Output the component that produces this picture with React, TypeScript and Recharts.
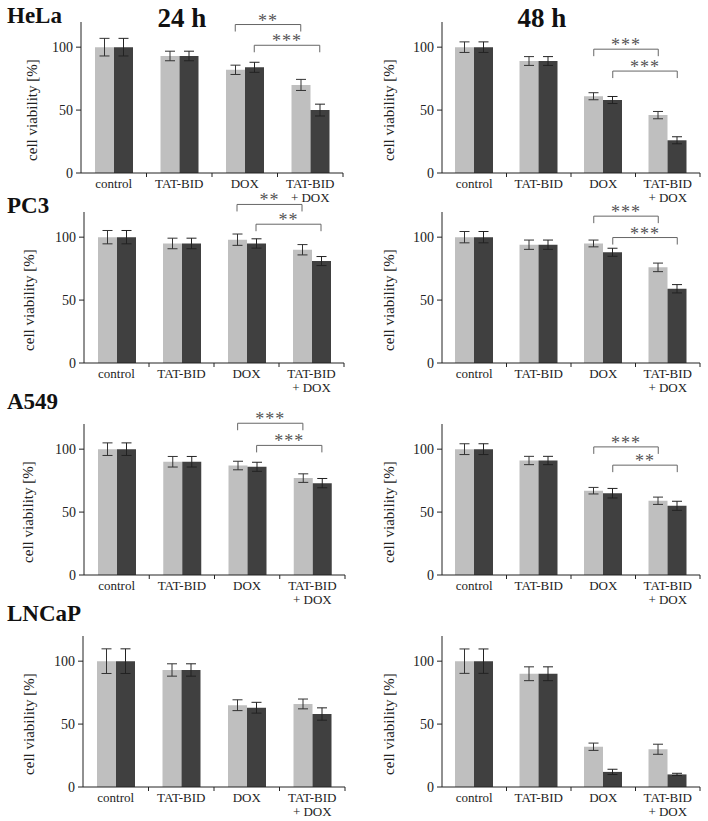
import { BarChart, Bar, XAxis, YAxis, ErrorBar, ReferenceLine } from 'recharts';

const FONT = "'Liberation Serif', 'Times New Roman', Times, serif";
const LIGHT = '#bfbfbf';
const DARK = '#404040';
const INK = '#222';

const CATEGORIES = ['control', 'TAT-BID', 'DOX', 'TAT-BID + DOX'];
const Y_TICKS = [0, 50, 100];
const Y_MAX = 120;

// HeLa
const HELA_24_LIGHT = [100, 93, 82, 70];
const HELA_24_LIGHT_SD = [7, 3.8, 3.7, 4.4];
const HELA_24_DARK = [100, 93, 84, 50];
const HELA_24_DARK_SD = [7, 3.8, 4, 4.7];
const HELA_48_LIGHT = [100, 89, 61, 46];
const HELA_48_LIGHT_SD = [4.2, 3.5, 2.8, 2.9];
const HELA_48_DARK = [100, 89, 58, 26];
const HELA_48_DARK_SD = [4.2, 3.5, 2.8, 2.8];

// PC3
const PC3_24_LIGHT = [100, 95, 98, 90];
const PC3_24_LIGHT_SD = [5.3, 4.2, 4.5, 4.1];
const PC3_24_DARK = [100, 95, 95, 81];
const PC3_24_DARK_SD = [5.3, 4.2, 3.7, 3.6];
const PC3_48_LIGHT = [100, 94, 95, 76];
const PC3_48_LIGHT_SD = [4.5, 3.7, 2.7, 3.4];
const PC3_48_DARK = [100, 94, 88, 59];
const PC3_48_DARK_SD = [4.5, 3.7, 3.2, 3.3];

// A549
const A549_24_LIGHT = [100, 90, 87, 77];
const A549_24_LIGHT_SD = [5, 4.2, 3.4, 3.4];
const A549_24_DARK = [100, 90, 86, 73];
const A549_24_DARK_SD = [5, 4.2, 3.6, 3.7];
const A549_48_LIGHT = [100, 91, 67, 59];
const A549_48_LIGHT_SD = [4.3, 3.3, 2.6, 2.9];
const A549_48_DARK = [100, 91, 65, 55];
const A549_48_DARK_SD = [4.3, 3.3, 3.8, 3.6];

// LNCaP
const LNCAP_24_LIGHT = [100, 93, 65, 66];
const LNCAP_24_LIGHT_SD = [9.8, 4.9, 4.3, 3.9];
const LNCAP_24_DARK = [100, 93, 63, 58];
const LNCAP_24_DARK_SD = [9.8, 4.9, 4.3, 4.9];
const LNCAP_48_LIGHT = [100, 90, 32, 30];
const LNCAP_48_LIGHT_SD = [9.7, 5.5, 2.9, 4];
const LNCAP_48_DARK = [100, 90, 12, 10];
const LNCAP_48_DARK_SD = [9.7, 5.5, 2.1, 0.9];

type Sig = { series: 'light' | 'dark'; from: string; to: string; y: number; stars: string };

const HELA_24_SIG: Sig[] = [
  { series: 'light', from: 'DOX', to: 'TAT-BID + DOX', y: 118, stars: '**' },
  { series: 'dark', from: 'DOX', to: 'TAT-BID + DOX', y: 101.5, stars: '***' },
];
const HELA_48_SIG: Sig[] = [
  { series: 'light', from: 'DOX', to: 'TAT-BID + DOX', y: 98.4, stars: '***' },
  { series: 'dark', from: 'DOX', to: 'TAT-BID + DOX', y: 81, stars: '***' },
];
const PC3_24_SIG: Sig[] = [
  { series: 'light', from: 'DOX', to: 'TAT-BID + DOX', y: 126, stars: '**' },
  { series: 'dark', from: 'DOX', to: 'TAT-BID + DOX', y: 110.3, stars: '**' },
];
const PC3_48_SIG: Sig[] = [
  { series: 'light', from: 'DOX', to: 'TAT-BID + DOX', y: 116.7, stars: '***' },
  { series: 'dark', from: 'DOX', to: 'TAT-BID + DOX', y: 99.7, stars: '***' },
];
const A549_24_SIG: Sig[] = [
  { series: 'light', from: 'DOX', to: 'TAT-BID + DOX', y: 120.6, stars: '***' },
  { series: 'dark', from: 'DOX', to: 'TAT-BID + DOX', y: 103, stars: '***' },
];
const A549_48_SIG: Sig[] = [
  { series: 'light', from: 'DOX', to: 'TAT-BID + DOX', y: 101.8, stars: '***' },
  { series: 'dark', from: 'DOX', to: 'TAT-BID + DOX', y: 87.3, stars: '**' },
];

// layout
const COL_W = 354;
const PLOT_H = 151;
const M_TOP = 30;
const X_H = 36;
const Y_W = 50;
const BAR = 19;
const BRACKET_DROP = 7;

function CatTick({ x, y, payload, fallback }: any) {
  const off = payload?.offset ?? fallback;
  const parts = String(payload.value).split(' + ');
  const idx = payload.index ?? CATEGORIES.indexOf(payload.value);
  return (
    <g>
      {idx > 0 && <line x1={x - off} x2={x - off} y1={y} y2={y + 4} stroke={INK} />}
      {idx === CATEGORIES.length - 1 && <line x1={x + off} x2={x + off} y1={y} y2={y + 4} stroke={INK} />}
      <text x={x} y={y + 15} textAnchor="middle" fontFamily={FONT} fontSize={13} fill={INK}>
        {parts.map((p, i) => (
          <tspan key={i} x={x} dy={i === 0 ? 0 : 13.5}>
            {i === 0 ? p : '+ ' + p}
          </tspan>
        ))}
      </text>
    </g>
  );
}

// bracket drawn between the centres of the two compared bars
function Bracket({ x1, y1, x2, series, stars }: any) {
  const shift = series === 'light' ? -BAR / 2 : BAR / 2;
  const a = x1 + shift;
  const b = x2 + shift;
  return (
    <g>
      <path
        d={`M${a},${y1 + BRACKET_DROP}V${y1}H${b}V${y1 + BRACKET_DROP}`}
        fill="none"
        stroke="#666"
        strokeWidth={1}
      />
      <text
        x={(a + b) / 2}
        y={y1 + 2}
        textAnchor="middle"
        fontFamily={FONT}
        fontSize={18}
        letterSpacing={1}
        fill="#555"
      >
        {stars}
      </text>
    </g>
  );
}

interface PanelProps {
  colLeft: number;
  plotLeft: number;
  plotRight: number;
  zeroY: number;
  light: number[];
  lightSd: number[];
  dark: number[];
  darkSd: number[];
  sig?: Sig[];
}

function Panel({ colLeft, plotLeft, plotRight, zeroY, light, lightSd, dark, darkSd, sig = [] }: PanelProps) {
  const data = CATEGORIES.map((name, i) => ({
    name,
    light: light[i],
    lightSd: lightSd[i],
    dark: dark[i],
    darkSd: darkSd[i],
  }));
  const band = (plotRight - plotLeft) / CATEGORIES.length;

  return (
    <div style={{ position: 'absolute', left: colLeft, top: zeroY - PLOT_H - M_TOP }}>
      <BarChart
        width={COL_W}
        height={M_TOP + PLOT_H + X_H}
        data={data}
        barGap={0}
        barSize={BAR}
        margin={{ top: M_TOP, right: colLeft + COL_W - plotRight, bottom: 0, left: plotLeft - colLeft - Y_W }}
      >
        <XAxis
          dataKey="name"
          height={X_H}
          interval={0}
          tickSize={0}
          tickMargin={0}
          tickLine={false}
          axisLine={{ stroke: INK }}
          tick={<CatTick fallback={band / 2} />}
        />
        <YAxis
          width={Y_W}
          domain={[0, Y_MAX]}
          ticks={Y_TICKS}
          tickSize={5}
          tickMargin={3}
          axisLine={{ stroke: INK }}
          tickLine={{ stroke: INK }}
          tick={{ fill: INK, fontSize: 14, fontFamily: FONT }}
        />
        <Bar dataKey="light" fill={LIGHT} isAnimationActive={false}>
          <ErrorBar dataKey="lightSd" width={5} stroke="#333" strokeWidth={1} />
        </Bar>
        <Bar dataKey="dark" fill={DARK} isAnimationActive={false}>
          <ErrorBar dataKey="darkSd" width={5} stroke="#222" strokeWidth={1} />
        </Bar>
        {sig.map((s, k) => (
          <ReferenceLine
            key={k}
            ifOverflow="visible"
            segment={[{ x: s.from, y: s.y }, { x: s.to, y: s.y }]}
            shape={(p: any) => <Bracket {...p} series={s.series} stars={s.stars} />}
          />
        ))}
      </BarChart>
    </div>
  );
}

const ROW_ZERO = [173, 363, 575, 787];
const LEFT_PLOT = [
  [81, 343],
  [84, 344],
  [84, 345],
  [83, 345],
];
const RIGHT_PLOT = [442, 700];
const LEFT_LABEL_X = [32, 29, 28, 29];
const RIGHT_LABEL_X = 389;
const ROW_NAMES = ['HeLa', 'PC3', 'A549', 'LNCaP'];
const ROW_NAME_Y = [23, 213, 409, 621];

export default function App() {
  const rows = [
    [
      [HELA_24_LIGHT, HELA_24_LIGHT_SD, HELA_24_DARK, HELA_24_DARK_SD, HELA_24_SIG],
      [HELA_48_LIGHT, HELA_48_LIGHT_SD, HELA_48_DARK, HELA_48_DARK_SD, HELA_48_SIG],
    ],
    [
      [PC3_24_LIGHT, PC3_24_LIGHT_SD, PC3_24_DARK, PC3_24_DARK_SD, PC3_24_SIG],
      [PC3_48_LIGHT, PC3_48_LIGHT_SD, PC3_48_DARK, PC3_48_DARK_SD, PC3_48_SIG],
    ],
    [
      [A549_24_LIGHT, A549_24_LIGHT_SD, A549_24_DARK, A549_24_DARK_SD, A549_24_SIG],
      [A549_48_LIGHT, A549_48_LIGHT_SD, A549_48_DARK, A549_48_DARK_SD, A549_48_SIG],
    ],
    [
      [LNCAP_24_LIGHT, LNCAP_24_LIGHT_SD, LNCAP_24_DARK, LNCAP_24_DARK_SD, []],
      [LNCAP_48_LIGHT, LNCAP_48_LIGHT_SD, LNCAP_48_DARK, LNCAP_48_DARK_SD, []],
    ],
  ] as any[];

  const labelDy = (50 * PLOT_H) / Y_MAX;

  return (
    <div
      style={{
        position: 'absolute',
        left: 0,
        top: 0,
        width: 708,
        height: 821,
        overflow: 'hidden',
        background: '#fff',
        fontFamily: FONT,
      }}
    >
      {rows.map((row: any[], r: number) =>
        row.map((p: any[], c: number) => (
          <Panel
            key={`${r}-${c}`}
            colLeft={c * COL_W}
            plotLeft={c === 0 ? LEFT_PLOT[r][0] : RIGHT_PLOT[0]}
            plotRight={c === 0 ? LEFT_PLOT[r][1] : RIGHT_PLOT[1]}
            zeroY={ROW_ZERO[r]}
            light={p[0]}
            lightSd={p[1]}
            dark={p[2]}
            darkSd={p[3]}
            sig={p[4]}
          />
        ))
      )}
      <svg
        width={708}
        height={821}
        style={{ position: 'absolute', left: 0, top: 0, pointerEvents: 'none' }}
      >
        {ROW_NAMES.map((n, r) => (
          <text key={n} x={7} y={ROW_NAME_Y[r]} fontFamily={FONT} fontWeight="bold" fontSize={23} fill="#111">
            {n}
          </text>
        ))}
        <text x={182} y={27} textAnchor="middle" fontFamily={FONT} fontWeight="bold" fontSize={27} fill="#111">
          24 h
        </text>
        <text x={542} y={27} textAnchor="middle" fontFamily={FONT} fontWeight="bold" fontSize={27} fill="#111">
          48 h
        </text>
        {ROW_ZERO.map((z, r) =>
          [LEFT_LABEL_X[r], RIGHT_LABEL_X].map((lx, c) => (
            <text
              key={`yl${r}${c}`}
              x={lx}
              y={z - labelDy}
              transform={`rotate(-90 ${lx} ${z - labelDy})`}
              textAnchor="middle"
              dominantBaseline="central"
              fontFamily={FONT}
              fontSize={15}
              fill={INK}
            >
              cell viability [%]
            </text>
          ))
        )}
      </svg>
    </div>
  );
}
